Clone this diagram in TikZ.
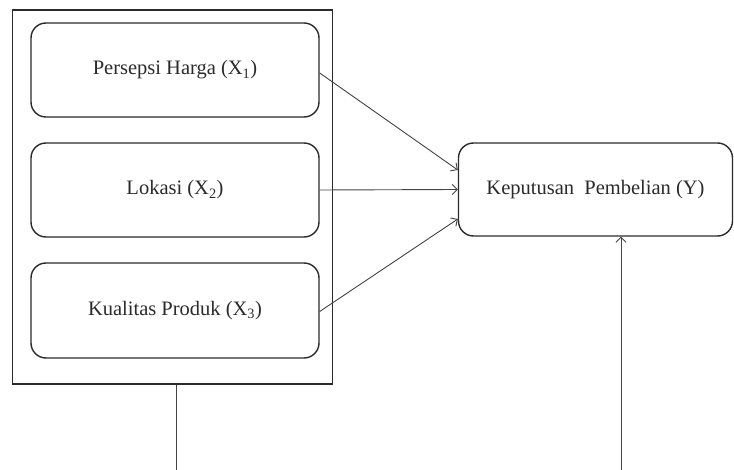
\documentclass[tikz,border=0pt]{standalone}
\usepackage{fontspec}
\setmainfont{Liberation Serif}
\usetikzlibrary{arrows.meta}
\definecolor{ink}{HTML}{2B2B2B}
\definecolor{lne}{HTML}{444444}
\begin{document}
\begin{tikzpicture}[x=1pt,y=-1pt,
  varbox/.style={draw=ink,line width=1.4pt,rounded corners=15pt,minimum width=288pt,minimum height=94pt,inner sep=0pt,text=ink,font=\fontsize{20.5}{24}\selectfont},
  frame/.style={draw=ink,line width=1.6pt,minimum width=320pt,minimum height=374pt,inner sep=0pt},
  conn/.style={draw=lne,line width=0.9pt,-{Straight Barb[length=5pt,width=10pt]}},
  plain/.style={draw=lne,line width=1pt}]
\useasboundingbox (0,0) rectangle (734,470);
\fill[white] (0,0) rectangle (734,470);
\node[frame] (outer) at (172.5,197) {};
\node[varbox] (b1) at (175,70) {Persepsi Harga (X\textsubscript{1})};
\node[varbox] (b2) at (175,190) {Lokasi (X\textsubscript{2})};
\node[varbox,minimum height=95pt] (b3) at (175,310.5) {Kualitas Produk (X\textsubscript{3})};
\node[varbox,minimum width=274pt,minimum height=93pt] (y) at (595.5,189.5) {Keputusan\hspace{0.5em}Pembelian (Y)};
\draw[conn] ([yshift=-3pt]b1.east) -- ([yshift=19.5pt]y.west);
\draw[conn] (b2.east) -- (y.west);
\draw[conn] ([yshift=-1pt]b3.east) -- ([yshift=-29.5pt]y.west);
\coordinate (lb) at (176,470);
\coordinate (rb) at (621,470);
\draw[plain] ([xshift=3.5pt]outer.south) -- (lb);
\draw[conn] (rb) -- ([xshift=25.5pt]y.south);
\end{tikzpicture}
\end{document}
